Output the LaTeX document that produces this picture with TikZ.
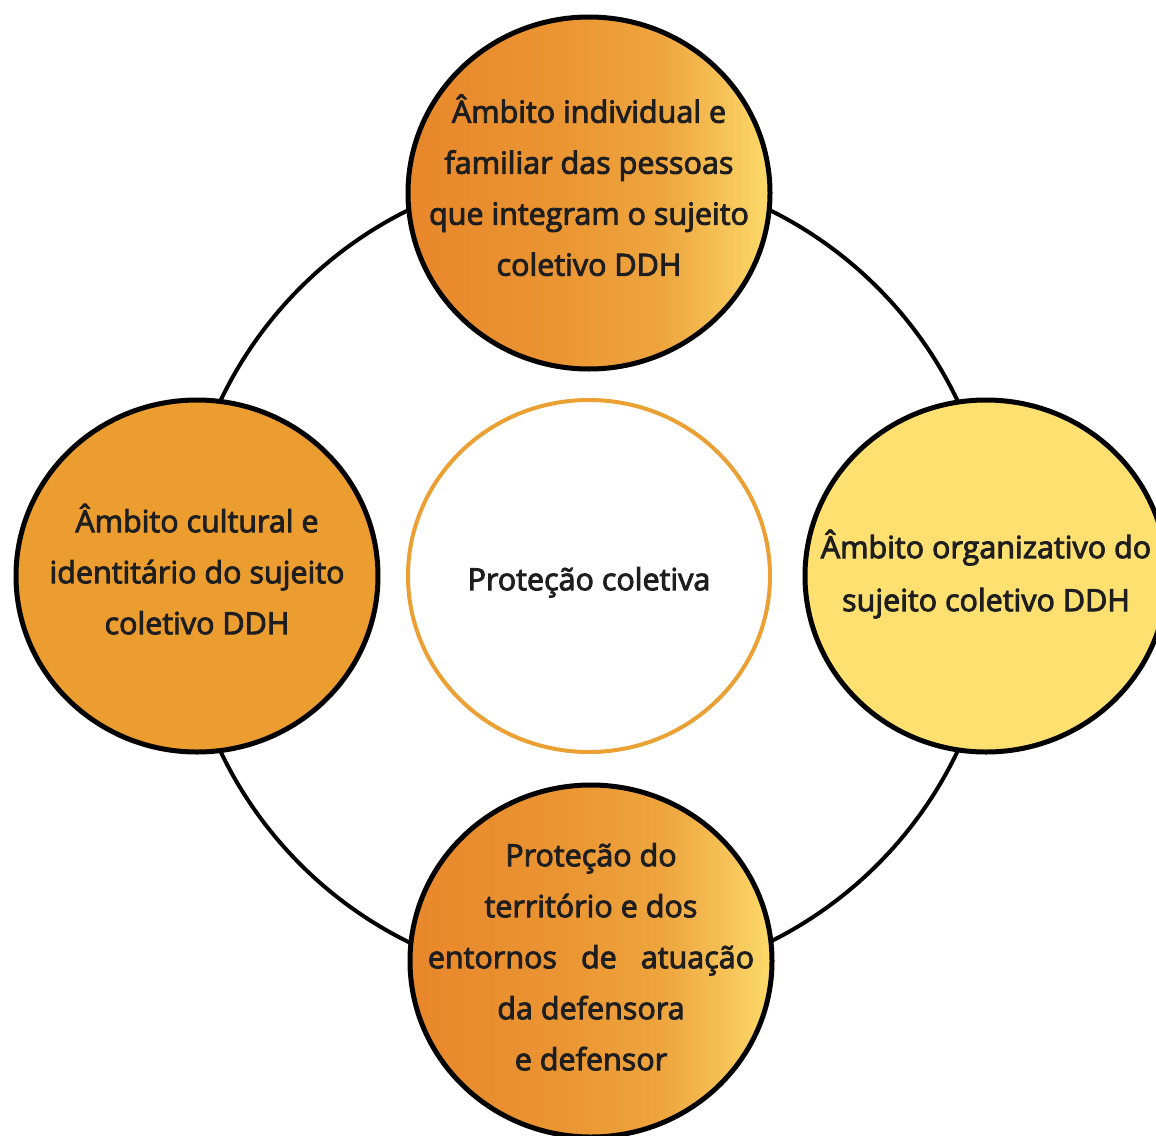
\documentclass[tikz,border=0pt]{standalone}
\usepackage{fontspec}
\setmainfont{Open Sans}
\newfontfamily\ambitofont{Open Sans}[FakeBold=3]
\usetikzlibrary{shapes.geometric}

\definecolor{inkdark}{HTML}{1E1E1E}
\definecolor{culturalorange}{HTML}{EC9D30}
\definecolor{organizayellow}{HTML}{FDE070}
\definecolor{centerrim}{HTML}{EBA033}
\pgfdeclarehorizontalshading{warmfade}{100bp}{%
  color(0bp)=(rgb,255:red,232;green,135;blue,43);
  color(25bp)=(rgb,255:red,232;green,135;blue,43);
  color(45bp)=(rgb,255:red,234;green,148;blue,50);
  color(60bp)=(rgb,255:red,238;green,165;blue,62);
  color(68bp)=(rgb,255:red,245;green,192;blue,85);
  color(75bp)=(rgb,255:red,253;green,218;blue,106);
  color(100bp)=(rgb,255:red,253;green,218;blue,106)}
% text block inside a circle, moved up or down (extent kept)
\newcommand\circletext[2]{\raisebox{#1}[\height][\depth]{\begin{tabular}{@{}c@{}}#2\end{tabular}}}

\tikzset{
  ambito/.style={ellipse, draw=black, line width=5pt, inner sep=-200pt,
    minimum width=362pt, minimum height=352pt,
    text=inkdark, font=\ambitofont\fontsize{30.5}{51}\selectfont},
  warm/.style={ambito, shading=warmfade},
}

\begin{document}
\begin{tikzpicture}[x=1pt,y=-1pt]
\useasboundingbox (0,0) rectangle (1156,1135);
\fill[white] (0,0) rectangle (1156,1135);
%\draw (0,577) -- (1156,577);
%\draw (589,0) -- (589,1135);
\node[ambito, draw=centerrim, line width=4pt, fill=white] (protecao) at (589,576) {\circletext{-4pt}{Proteção coletiva}};
\draw[line width=4pt] (protecao.center) circle[radius=408pt];
\node[warm] (familiar) at (589,193) {\circletext{4pt}{Âmbito individual e\\familiar das pessoas\\que integram o sujeito\\coletivo DDH}};
\node[ambito, fill=organizayellow] (organizativo) at (986,576) {\fontsize{30.5}{53}\selectfont\circletext{2pt}{Âmbito organizativo do\\sujeito coletivo DDH}};
\node[ambito, fill=culturalorange] (cultural) at (197,576) {\circletext{3pt}{Âmbito cultural e\\identitário do sujeito\\coletivo DDH}};
\node[warm] (territorio) at (591,961) {\circletext{3pt}{Proteção do\\território e dos\\entornos\hspace{24pt}de\hspace{24pt}atuação\\da defensora\\e defensor}};
\end{tikzpicture}
\end{document}
